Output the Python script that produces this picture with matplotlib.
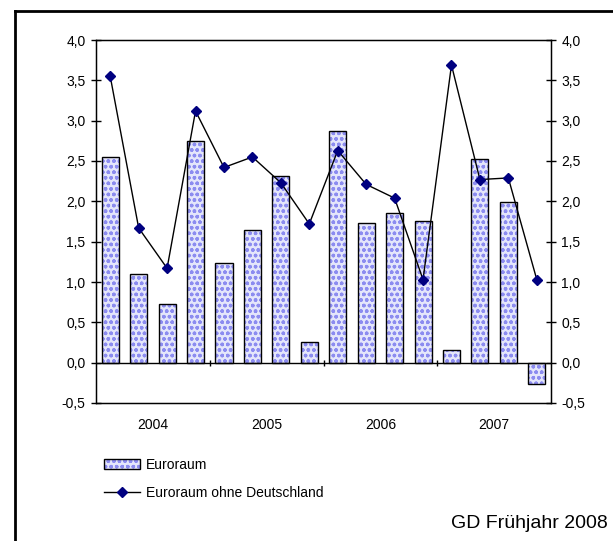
import matplotlib
matplotlib.use('Agg')
import matplotlib.pyplot as plt
from matplotlib.patches import Patch
from matplotlib.lines import Line2D
from matplotlib.legend_handler import HandlerTuple
from matplotlib.ticker import FuncFormatter
import numpy as np

plt.rcParams['font.family'] = ['Liberation Sans', 'DejaVu Sans']

# Quartale 2004 Q1 bis 2007 Q4
years = ['2004', '2005', '2006', '2007']
euroraum = [2.55, 1.10, 0.73, 2.75, 1.24, 1.64, 2.32, 0.25,
            2.87, 1.73, 1.85, 1.76, 0.16, 2.52, 1.99, -0.27]
ohne_de = [3.55, 1.67, 1.17, 3.12, 2.42, 2.55, 2.23, 1.72,
           2.63, 2.21, 2.04, 1.03, 3.69, 2.27, 2.29, 1.03]

bar_face = '#e4e6fb'
hatch_col = '#8c8cf0'
marker_col = '#000080'

fig = plt.figure(figsize=(6.13, 5.41), dpi=100)
ax = fig.add_axes([96 / 613, 1 - 403 / 541, (551 - 96) / 613, (403 - 40) / 541])

x = np.arange(len(euroraum))
# Balken: erst Schraffur, dann schwarzer Rand
ax.bar(x, euroraum, width=0.6, color=bar_face, hatch='ooo', edgecolor=hatch_col, linewidth=0, zorder=2)
ax.bar(x, euroraum, width=0.6, fill=False, edgecolor='black', linewidth=1, zorder=3)
ax.plot(x, ohne_de, color='black', linewidth=1, marker='D', markersize=5.5,
        markerfacecolor=marker_col, markeredgecolor=marker_col, zorder=4)

ax.set_xlim(-0.5, len(euroraum) - 0.5)
ax.set_ylim(-0.5, 4.0)
ax.set_yticks(np.arange(-0.5, 4.01, 0.5))
fmt = FuncFormatter(lambda v, p: ('%.1f' % v).replace('.', ','))
ax.yaxis.set_major_formatter(fmt)
ax.tick_params(axis='y', direction='inout', length=7, width=1, labelsize=10, pad=4)

# Nulllinie mit Jahrestrennern
ax.axhline(0, color='black', linewidth=1, zorder=3)
ax.vlines([3.5, 7.5, 11.5], -0.04, 0.03, color='black', linewidth=1, zorder=3)

ax.set_xticks([1.5, 5.5, 9.5, 13.5])
ax.set_xticklabels(years)
ax.tick_params(axis='x', length=0, labelsize=10, pad=11)

for s in ax.spines.values():
    s.set_linewidth(1)

ax2 = ax.twinx()
ax2.set_ylim(ax.get_ylim())
ax2.set_yticks(np.arange(-0.5, 4.01, 0.5))
ax2.yaxis.set_major_formatter(fmt)
ax2.tick_params(axis='y', direction='inout', length=7, width=1, labelsize=10, pad=4)

bar_handle = (Patch(facecolor=bar_face, edgecolor=hatch_col, hatch='ooo', linewidth=0),
              Patch(fill=False, edgecolor='black', linewidth=1))
line_handle = Line2D([], [], color='black', linewidth=1, marker='D', markersize=5.5,
                     markerfacecolor=marker_col, markeredgecolor=marker_col)
fig.legend([bar_handle, line_handle], ['Euroraum', 'Euroraum ohne Deutschland'],
           handler_map={tuple: HandlerTuple(ndivide=1, pad=0)},
           loc='upper left', bbox_to_anchor=(104 / 613, 1 - 458 / 541),
           frameon=False, fontsize=10, handlelength=2.6, handleheight=0.7,
           labelspacing=1.0, handletextpad=0.4, borderaxespad=0, borderpad=0)

fig.text(608 / 613, 1 - 523 / 541, 'GD Frühjahr 2008', ha='right', va='center', fontsize=14)

# Rahmen um die Grafik (rechts und unten abgeschnitten)
fig.add_artist(Line2D([15 / 613, 1.0], [1 - 11 / 541, 1 - 11 / 541], color='black', linewidth=2,
                      transform=fig.transFigure))
fig.add_artist(Line2D([15 / 613, 15 / 613], [0.0, 1 - 11 / 541], color='black', linewidth=2,
                      transform=fig.transFigure))

fig.savefig('out.png', dpi=100)
